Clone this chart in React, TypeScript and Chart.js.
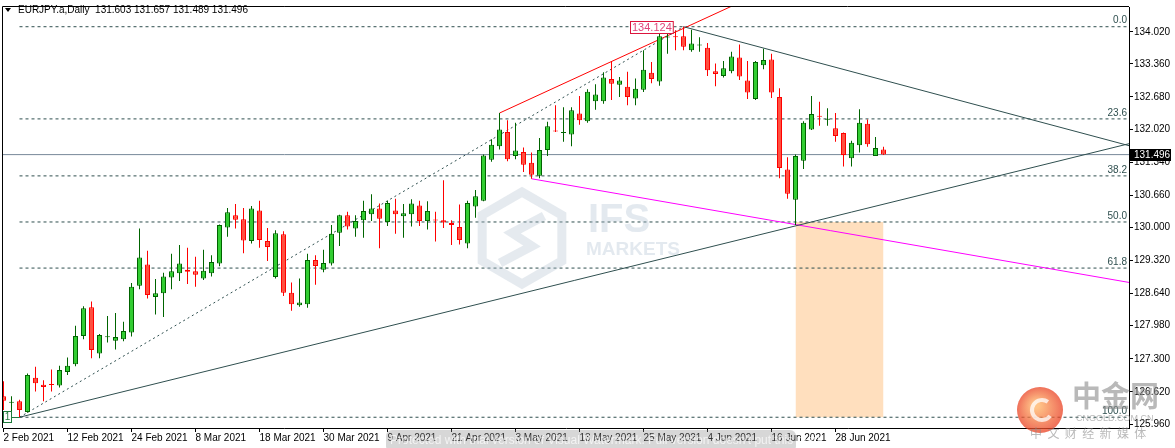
import React, { useEffect, useRef } from 'react';
import { Chart, registerables } from 'chart.js';

Chart.register(...registerables);

// ---------- data ----------
const symbolTitle = 'EURJPY.a,Daily';
const lastQuote = ['131.603', '131.657', '131.489', '131.496'];

const dateLabels = ['2 Feb 2021', '12 Feb 2021', '24 Feb 2021', '8 Mar 2021', '18 Mar 2021', '30 Mar 2021', '9 Apr 2021', '21 Apr 2021', '3 May 2021', '13 May 2021', '25 May 2021', '4 Jun 2021', '16 Jun 2021', '28 Jun 2021'];
const dateTickIndex = [0, 8, 16, 24, 32, 40, 48, 56, 64, 72, 80, 88, 96, 104];

const yTickValues = [125.96, 126.62, 127.3, 127.98, 128.64, 129.32, 130.0, 130.66, 131.34, 132.02, 132.68, 133.36, 134.02];

const opens = [
  126.53, 126.40, 126.43, 126.21, 126.91, 126.77, 126.78, 126.75, 127.03, 127.19,
  127.77, 128.36, 127.41, 127.745, 127.67, 127.70, 127.84, 128.80, 129.24, 128.57,
  128.65, 128.97, 129.06, 129.13, 129.10, 128.95, 129.06, 129.26, 130.00, 130.25,
  130.17, 129.72, 130.35, 129.72, 128.98, 129.86, 128.66, 128.40, 128.42, 129.33,
  129.13, 129.26, 129.89, 130.25, 129.98, 130.15, 130.27, 130.39, 130.11, 130.35,
  130.23, 130.27, 130.45, 130.13, 130.15, 130.15, 130.09, 130.01, 129.67, 130.43,
  130.55, 131.39, 131.67, 131.96, 131.47, 131.55, 131.33, 131.06, 131.59, 131.99,
  131.94, 131.91, 132.34, 132.18, 132.59, 132.59, 133.05, 132.93, 132.89, 132.65,
  132.83, 133.18, 133.00, 133.90, 133.93, 133.93, 133.64, 133.74, 133.69, 133.21,
  133.11, 133.21, 133.49, 133.02, 132.64, 133.33, 133.45, 132.68, 131.19, 130.57,
  131.37, 132.01, 132.29, 132.21, 132.04, 131.94, 131.42, 131.69, 132.13, 131.47,
  131.603,
];
const highs = [
  126.84, 126.53, 126.46, 127.00, 127.14, 126.86, 127.08, 127.16, 127.33, 127.98,
  128.38, 128.48, 127.81, 128.18, 128.24, 128.06, 128.86, 129.98, 129.52, 128.94,
  129.07, 129.46, 129.64, 129.58, 129.40, 129.54, 129.43, 130.06, 130.40, 130.48,
  130.40, 130.44, 130.55, 129.99, 129.94, 129.92, 128.87, 128.95, 129.46, 129.43,
  129.54, 130.05, 130.26, 130.32, 130.25, 130.55, 130.68, 130.49, 130.55, 130.59,
  130.48, 130.58, 130.55, 130.54, 130.32, 130.97, 130.15, 130.47, 130.55, 130.77,
  131.50, 131.81, 132.35, 132.20, 132.15, 131.64, 131.54, 131.84, 132.17, 132.51,
  132.47, 132.47, 132.70, 132.84, 132.94, 133.19, 133.42, 133.09, 133.20, 133.06,
  133.64, 133.40, 133.98, 134.01, 134.05, 134.124, 134.06, 133.91, 133.79, 133.37,
  133.42, 133.61, 133.76, 133.42, 133.42, 133.67, 133.57, 132.86, 131.44, 131.50,
  132.18, 132.70, 132.58, 132.45, 132.35, 131.95, 131.78, 132.43, 132.22, 131.86,
  131.657,
];
const lows = [
  126.25, 126.14, 126.10, 126.19, 126.63, 126.43, 126.63, 126.71, 126.97, 127.15,
  127.70, 127.31, 127.31, 127.635, 127.49, 127.66, 127.76, 128.73, 128.54, 128.21,
  128.16, 128.73, 128.90, 128.84, 128.78, 128.92, 128.99, 129.20, 129.81, 129.98,
  129.47, 129.67, 129.58, 129.31, 128.95, 128.59, 128.29, 128.37, 128.35, 128.82,
  129.08, 129.22, 129.62, 129.96, 129.81, 129.79, 130.13, 129.57, 130.03, 129.87,
  129.79, 130.02, 130.03, 129.96, 129.71, 129.99, 129.64, 129.65, 129.57, 130.20,
  130.54, 131.35, 131.60, 131.36, 131.40, 131.14, 131.00, 131.01, 131.47, 131.96,
  131.76, 131.67, 132.11, 132.15, 132.42, 132.54, 132.62, 132.68, 132.51, 132.51,
  132.78, 132.96, 132.91, 133.57, 133.64, 133.64, 133.61, 133.61, 133.11, 132.90,
  133.08, 133.17, 133.03, 132.64, 132.62, 133.25, 132.66, 131.01, 130.59, 130.05,
  131.20, 132.00, 132.09, 132.09, 131.76, 131.25, 131.25, 131.54, 131.66, 131.47,
  131.489,
];
const closes = [
  126.44, 126.42, 126.25, 126.97, 126.80, 126.72, 126.76, 127.07, 127.16, 127.77,
  128.34, 127.48, 127.79, 127.765, 127.75, 127.87, 128.78, 129.38, 128.61, 128.65,
  128.99, 129.10, 129.26, 129.09, 129.03, 129.11, 129.29, 130.05, 130.31, 130.16,
  129.73, 130.39, 129.74, 129.60, 129.88, 128.66, 128.42, 128.46, 129.33, 129.21,
  129.27, 129.87, 130.25, 130.02, 130.13, 130.34, 130.39, 130.18, 130.50, 130.27,
  130.29, 130.49, 130.13, 130.34, 130.14, 130.10, 130.05, 129.74, 130.50, 130.64,
  131.48, 131.70, 132.01, 131.40, 131.58, 131.29, 131.08, 131.59, 132.08, 131.97,
  131.95, 132.41, 132.20, 132.79, 132.73, 133.08, 132.95, 133.02, 132.68, 132.85,
  133.24, 133.05, 133.93, 133.92, 133.91, 133.71, 133.78, 133.75, 133.23, 133.15,
  133.27, 133.51, 133.10, 132.77, 133.40, 133.44, 132.77, 131.22, 130.69, 131.47,
  132.15, 132.33, 132.275, 132.22, 131.88, 131.49, 131.74, 132.15, 131.71, 131.63,
  131.496,
];

const currentPrice = 131.496;
const currentPriceLabel = '131.496';

// Fibonacci retracement (from the swing low to the swing high)
const fibLevels = [134.124, 132.23, 131.059, 130.112, 129.165, 126.1];
const fibLabels = ['0.0', '23.6', '38.2', '50.0', '61.8', '100.0'];
const fibStartIndex = 2;

const swingLowIndex = 2;
const swingLowPrice = 126.1;
const swingHighIndex = 85;
const swingHighPrice = 134.124;
const swingHighLabel = '134.124';

// trend lines: [startIndex, startPrice, endIndex, endPrice]
const risingSupport = [2, 126.1, 140.6875, 131.72];
const fallingResistance = [85, 134.124, 140.6875, 131.68];
const swingDotted = [2, 126.1, 85, 134.124];
const redChannel = [62, 132.35, 92, 134.62];
const magentaLine = [66, 131.0, 140.6875, 128.87];

// target zone rectangle: [fromIndex, toIndex, topPrice, bottomPrice]
const targetZone = [99, 110, 130.112, 126.1];

// ---------- chart ----------
const X_MIN = -0.0625;
const X_MAX = 140.6875;
const Y_MIN = 125.879;
const Y_MAX = 134.529;

const FONT = '"Liberation Sans", Arial, sans-serif';
const GREEN_FILL = '#32CD32';
const GREEN_LINE = '#006400';
const RED_FILL = '#FF5040';
const RED_LINE = '#FF0000';
const SLATE = '#2F4F4F';

function seg(arr: number[]) {
  return [
    { x: arr[0], y: arr[1] },
    { x: arr[2], y: arr[3] },
  ];
}

const overlayPlugin = {
  id: 'mt4overlay',
  afterDatasetsDraw(chart: any) {
    const { ctx, chartArea: ca, scales } = chart;
    const xs = scales.x;
    const ys = scales.y;
    ctx.save();
    // fib labels
    ctx.font = `10px ${FONT}`;
    ctx.fillStyle = SLATE;
    ctx.textAlign = 'right';
    ctx.textBaseline = 'bottom';
    fibLevels.forEach((lv, k) => {
      ctx.fillText(fibLabels[k], ca.right - 2, ys.getPixelForValue(lv) - 1);
    });

    // swing high price label
    const hx = xs.getPixelForValue(swingHighIndex);
    const hy = ys.getPixelForValue(swingHighPrice);
    ctx.font = `11px ${FONT}`;
    const tw = ctx.measureText(swingHighLabel).width;
    const bx = Math.round(hx - 11 - tw - 3) + 0.5;
    const by = Math.round(hy - 6) + 0.5;
    ctx.fillStyle = '#ffffff';
    ctx.fillRect(bx, by, tw + 3, 12);
    ctx.strokeStyle = '#DC143C';
    ctx.lineWidth = 1;
    ctx.strokeRect(bx, by, tw + 3, 12);
    ctx.fillStyle = '#E0457A';
    ctx.textAlign = 'left';
    ctx.textBaseline = 'middle';
    ctx.fillText(swingHighLabel, bx + 1.5, by + 6.5);

    // swing low marker "1"
    const lx = xs.getPixelForValue(swingLowIndex);
    const ly = ys.getPixelForValue(swingLowPrice);
    ctx.strokeStyle = '#1E7B3C';
    ctx.beginPath();
    ctx.moveTo(ca.left + 8, Math.round(ly) + 0.5);
    ctx.lineTo(lx, Math.round(ly) + 0.5);
    ctx.stroke();
    ctx.strokeRect(ca.left + 0.5, Math.round(ly) - 5.5, 8, 11);
    ctx.fillStyle = '#1E7B3C';
    ctx.font = `10px ${FONT}`;
    ctx.textAlign = 'center';
    ctx.fillText('1', ca.left + 4.5, Math.round(ly) + 0.5);
    ctx.restore();
  },
  afterDraw(chart: any) {
    const { ctx, chartArea: ca, scales } = chart;
    const ys = scales.y;
    ctx.save();
    // frame top/left
    ctx.strokeStyle = '#000';
    ctx.lineWidth = 1;
    ctx.beginPath();
    ctx.moveTo(ca.left - 0.5, ca.bottom);
    ctx.lineTo(ca.left - 0.5, ca.top - 0.5);
    ctx.lineTo(ca.right, ca.top - 0.5);
    ctx.stroke();

    // header
    ctx.fillStyle = '#000';
    ctx.beginPath();
    ctx.moveTo(5, 8);
    ctx.lineTo(11, 8);
    ctx.lineTo(8, 12);
    ctx.closePath();
    ctx.fill();
    ctx.font = `10px ${FONT}`;
    ctx.textAlign = 'left';
    ctx.textBaseline = 'middle';
    ctx.fillText(symbolTitle + '  ' + lastQuote.join(' '), 18, 10.5);

    // current price box on axis
    const py = ys.getPixelForValue(currentPrice);
    ctx.fillStyle = '#000';
    ctx.fillRect(ca.right + 1, Math.round(py) - 6, 41, 12);
    ctx.fillStyle = '#fff';
    ctx.fillText(currentPriceLabel, ca.right + 5, Math.round(py) + 0.5);

    // IFS Markets watermark
    ctx.globalAlpha = 0.35;
    ctx.strokeStyle = '#B4C3D2';
    ctx.lineWidth = 9;
    const cx = 522, cy = 238, r = 46;
    ctx.beginPath();
    for (let k = 0; k < 6; k++) {
      const a = Math.PI / 6 + (k * Math.PI) / 3;
      const px = cx + r * Math.cos(a);
      const pyy = cy + r * Math.sin(a);
      if (k === 0) ctx.moveTo(px, pyy); else ctx.lineTo(px, pyy);
    }
    ctx.closePath();
    ctx.stroke();
    ctx.beginPath();
    ctx.moveTo(cx + 22, cy - 22);
    ctx.lineTo(cx - 10, cy - 5);
    ctx.lineTo(cx + 10, cy + 8);
    ctx.lineTo(cx - 22, cy + 25);
    ctx.stroke();
    ctx.fillStyle = '#AFC0D0';
    ctx.font = `bold 40px ${FONT}`;
    ctx.textBaseline = 'alphabetic';
    ctx.fillText('IFS', 588, 232);
    ctx.font = `bold 19px ${FONT}`;
    ctx.fillText('MARKETS', 586, 255);

    // cngold watermark
    ctx.globalAlpha = 0.75;
    const g = ctx.createRadialGradient(1036, 405, 3, 1040, 410, 24);
    g.addColorStop(0, '#FFB060');
    g.addColorStop(1, '#E8391E');
    ctx.fillStyle = g;
    ctx.beginPath();
    ctx.arc(1040, 410, 23, 0, Math.PI * 2);
    ctx.fill();
    ctx.strokeStyle = '#ffffff';
    ctx.lineWidth = 4;
    ctx.beginPath();
    ctx.arc(1042, 410, 10, Math.PI * 0.2, Math.PI * 1.7);
    ctx.stroke();
    ctx.globalAlpha = 0.6;
    ctx.fillStyle = '#8A8A8A';
    ctx.font = `bold 29px "Noto Sans CJK SC", sans-serif`;
    ctx.fillText('中金网', 1072, 407);
    ctx.font = `9px ${FONT}`;
    ctx.fillText('CNGOLD.COM.CN', 1076, 421);
    ctx.font = `12px "Noto Sans CJK SC", sans-serif`;
    ctx.fillText('中  文  财  经  新  媒  体', 1030, 438);

    // trial watermark
    ctx.globalAlpha = 0.35;
    ctx.fillStyle = '#8C8C8C';
    ctx.beginPath();
    ctx.roundRect(386, 430, 410, 22, 6);
    ctx.fill();
    ctx.globalAlpha = 0.7;
    ctx.fillStyle = '#ffffff';
    ctx.font = `12px ${FONT}`;
    ctx.fillText('Protected with trial version of Visual Watermark. Full version doesn\'t put this mark.', 390, 444);
    ctx.restore();
  },
};

export default function App() {
  const ref = useRef<HTMLCanvasElement | null>(null);

  useEffect(() => {
    document.body.style.margin = '0';
    const idx = opens.map((_, i) => i);
    const bull = idx.map((i) => closes[i] >= opens[i]);

    const lineDs = (label: string, pts: any[], color: string, order: number, dash: number[] = []) => ({
      type: 'line' as const,
      label,
      data: pts,
      borderColor: color,
      borderWidth: 1,
      borderDash: dash,
      pointRadius: 0,
      fill: false,
      tension: 0,
      order,
    });

    const fibDatasets = fibLevels.map((lv, k) =>
      lineDs('fib ' + fibLabels[k], [{ x: fibStartIndex, y: lv }, { x: X_MAX, y: lv }], SLATE, 60, [3, 3])
    );

    const chart = new Chart(ref.current as HTMLCanvasElement, {
      type: 'bar',
      data: {
        datasets: [
          {
            type: 'line',
            label: 'zone',
            data: [
              { x: targetZone[0], y: targetZone[2] },
              { x: targetZone[1], y: targetZone[2] },
            ],
            borderWidth: 0,
            borderColor: 'rgba(0,0,0,0)',
            backgroundColor: 'rgb(255,223,190)',
            pointRadius: 0,
            fill: { value: targetZone[3] },
            order: 100,
          } as any,
          ...fibDatasets,
          lineDs('price', [{ x: X_MIN, y: currentPrice }, { x: X_MAX, y: currentPrice }], '#778899', 55),
          lineDs('rising', seg(risingSupport), SLATE, 40),
          lineDs('falling', seg(fallingResistance), SLATE, 40),
          lineDs('dotted', seg(swingDotted), SLATE, 40, [2, 3]),
          lineDs('red', seg(redChannel), RED_LINE, 40),
          lineDs('magenta', seg(magentaLine), '#FF00FF', 40),
          {
            type: 'bar',
            label: 'wick',
            data: idx.map((i) => ({ x: i, y: [lows[i], highs[i]] })),
            backgroundColor: idx.map((i) => (bull[i] ? GREEN_LINE : RED_LINE)),
            borderWidth: 0,
            barThickness: 1,
            grouped: false,
            inflateAmount: 0,
            order: 10,
          } as any,
          {
            type: 'bar',
            label: 'body',
            data: idx.map((i) => ({ x: i, y: [opens[i], closes[i]] })),
            backgroundColor: idx.map((i) => (bull[i] ? GREEN_FILL : RED_FILL)),
            borderColor: idx.map((i) => (bull[i] ? GREEN_LINE : RED_LINE)),
            borderWidth: 1,
            borderSkipped: false,
            barThickness: 5,
            minBarLength: 1,
            grouped: false,
            inflateAmount: 0,
            order: 5,
          } as any,
        ],
      },
      options: {
        animation: false,
        responsive: false,
        events: [],
        layout: { padding: { left: 3, top: 3, right: 0, bottom: 0 } },
        plugins: { legend: { display: false }, tooltip: { enabled: false } },
        scales: {
          x: {
            type: 'linear',
            min: X_MIN,
            max: X_MAX,
            offset: false,
            grid: { display: true, drawOnChartArea: false, drawTicks: true, tickLength: 4, color: '#000', offset: false },
            border: { display: true, color: '#000', width: 1 },
            afterBuildTicks: (s: any) => {
              s.ticks = dateTickIndex.map((v) => ({ value: v }));
            },
            afterFit: (s: any) => {
              s.height = 20;
            },
            ticks: {
              autoSkip: false,
              maxRotation: 0,
              align: 'start',
              padding: 0,
              color: '#000',
              font: { family: FONT, size: 10 },
              callback: (v: any) => {
                const k = dateTickIndex.indexOf(Number(v));
                return k >= 0 ? dateLabels[k] : '';
              },
            },
          },
          y: {
            type: 'linear',
            position: 'right',
            min: Y_MIN,
            max: Y_MAX,
            beginAtZero: false,
            grid: { display: true, drawOnChartArea: false, drawTicks: true, tickLength: 4, color: '#000' },
            border: { display: true, color: '#000', width: 1 },
            afterBuildTicks: (s: any) => {
              s.ticks = yTickValues.map((v) => ({ value: v }));
            },
            afterFit: (s: any) => {
              s.width = 46;
            },
            ticks: {
              padding: 1,
              color: '#000',
              font: { family: FONT, size: 10 },
              callback: (v: any) => Number(v).toFixed(3),
            },
          },
        },
      } as any,
      plugins: [overlayPlugin],
    });
    return () => chart.destroy();
  }, []);

  return (
    <div style={{ position: 'fixed', left: 0, top: 0, width: 1175, height: 448, background: '#fff' }}>
      <canvas ref={ref} width={1175} height={448} style={{ display: 'block' }} />
    </div>
  );
}
